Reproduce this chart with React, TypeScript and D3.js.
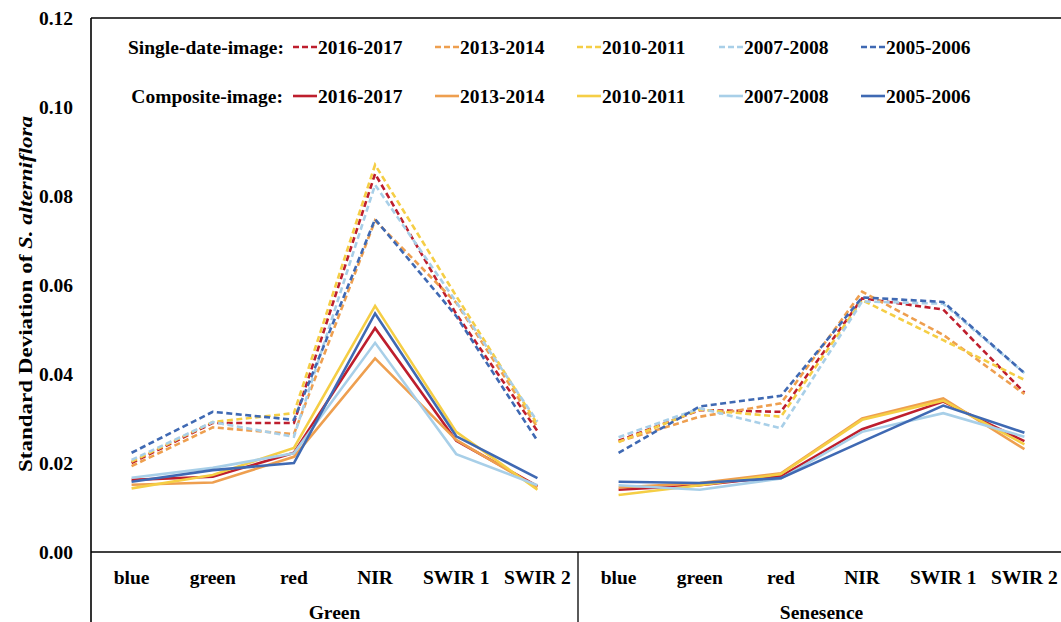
import React from "react";
import * as d3 from "d3";

const bands = ["blue", "green", "red", "NIR", "SWIR 1", "SWIR 2"];
const groups = ["Green", "Senesence"];
const periods = ["2016-2017", "2013-2014", "2010-2011", "2007-2008", "2005-2006"];
const colors = ["#BE1E2D", "#EE9F4F", "#F5CE45", "#A8CFE8", "#3F69B3"];
const yTicks = [0, 0.02, 0.04, 0.06, 0.08, 0.1, 0.12];

// Single-date-image (dashed): 6 Green bands then 6 Senesence bands
const single_2016_2017 = [0.0200, 0.0290, 0.0290, 0.0850, 0.0535, 0.0272, 0.0250, 0.0319, 0.0315, 0.0570, 0.0545, 0.0358];
const single_2013_2014 = [0.0193, 0.0280, 0.0265, 0.0745, 0.0560, 0.0280, 0.0248, 0.0304, 0.0334, 0.0585, 0.0488, 0.0355];
const single_2010_2011 = [0.0203, 0.0292, 0.0312, 0.0870, 0.0575, 0.0287, 0.0247, 0.0320, 0.0304, 0.0566, 0.0476, 0.0387];
const single_2007_2008 = [0.0207, 0.0292, 0.0259, 0.0825, 0.0562, 0.0293, 0.0258, 0.0323, 0.0278, 0.0563, 0.0558, 0.0402];
const single_2005_2006 = [0.0223, 0.0315, 0.0297, 0.0748, 0.0530, 0.0250, 0.0223, 0.0327, 0.0351, 0.0572, 0.0562, 0.0402];

// Composite-image (solid)
const comp_2016_2017 = [0.0162, 0.0169, 0.0223, 0.0503, 0.0250, 0.0148, 0.0140, 0.0150, 0.0170, 0.0276, 0.0338, 0.0249];
const comp_2013_2014 = [0.0151, 0.0156, 0.0214, 0.0435, 0.0252, 0.0145, 0.0145, 0.0155, 0.0177, 0.0300, 0.0345, 0.0231];
const comp_2010_2011 = [0.0143, 0.0173, 0.0234, 0.0553, 0.0270, 0.0140, 0.0128, 0.0150, 0.0175, 0.0297, 0.0340, 0.0242];
const comp_2007_2008 = [0.0167, 0.0189, 0.0222, 0.0470, 0.0220, 0.0150, 0.0150, 0.0140, 0.0165, 0.0270, 0.0312, 0.0259];
const comp_2005_2006 = [0.0158, 0.0184, 0.0200, 0.0536, 0.0260, 0.0166, 0.0158, 0.0155, 0.0166, 0.0248, 0.0329, 0.0268];

const singleSeries = [single_2016_2017, single_2013_2014, single_2010_2011, single_2007_2008, single_2005_2006];
const compSeries = [comp_2016_2017, comp_2013_2014, comp_2010_2011, comp_2007_2008, comp_2005_2006];

const W = 1061, H = 622;
const left = 91, right = 1065, top = 18, bottom = 552;
const FONT = "Liberation Serif, serif";

export default function App() {
  const keys = groups.flatMap((g) => bands.map((b) => g + "|" + b));
  const x = d3.scaleBand().domain(keys).range([left, right]).padding(0);
  const y = d3.scaleLinear().domain([0, 0.12]).range([bottom, top]);
  const cx = (i: number) => (x(keys[i]) as number) + x.bandwidth() / 2;
  const line = d3.line<[number, number]>().x((d) => d[0]).y((d) => d[1]);

  const pathsFor = (vals: number[]) =>
    groups.map((g, gi) =>
      line(bands.map((_, bi) => [cx(gi * 6 + bi), y(vals[gi * 6 + bi])] as [number, number]))
    );

  const sepX = x(keys[6]) as number;

  const legendX0 = 293;
  const legendStep = 142;
  const txt = { fontFamily: FONT, fontWeight: 700 } as React.CSSProperties;

  return (
    <svg width={W} height={H} style={{ position: "absolute", left: 0, top: 0, background: "#fff", fontFamily: FONT }}>
      <rect x={0} y={0} width={W} height={H} fill="#fff" />
      {compSeries.map((s, i) =>
        pathsFor(s).map((p, gi) => (
          <path key={"c" + i + gi} d={p || ""} fill="none" stroke={colors[i]} strokeWidth={2.6} />
        ))
      )}
      {singleSeries.map((s, i) =>
        pathsFor(s).map((p, gi) => (
          <path key={"s" + i + gi} d={p || ""} fill="none" stroke={colors[i]} strokeWidth={2.6} strokeDasharray="6,3.5" />
        ))
      )}
      <line x1={left} x2={W} y1={top} y2={top} stroke="#000" strokeWidth={1.6} />
      <line x1={left} x2={left} y1={top} y2={H} stroke="#000" strokeWidth={1.6} />
      <line x1={left} x2={W} y1={bottom} y2={bottom} stroke="#000" strokeWidth={1.6} />
      <line x1={sepX} x2={sepX} y1={bottom} y2={H} stroke="#000" strokeWidth={1.3} />
      {yTicks.map((t) => (
        <text key={t} x={73} y={y(t)} dy="0.35em" textAnchor="end" fontSize={19.5} style={txt}>
          {t.toFixed(2)}
        </text>
      ))}
      <text
        transform={`translate(32,294) rotate(-90)`}
        textAnchor="middle"
        fontSize={19.5}
        style={txt}
        textLength={356}
        lengthAdjust="spacingAndGlyphs"
      >
        Standard Deviation of <tspan fontStyle="italic">S. alterniflora</tspan>
      </text>
      {keys.map((k, i) => (
        <text key={k} x={cx(i)} y={577} dy="0.35em" textAnchor="middle" fontSize={19.5} style={txt}>
          {bands[i % 6]}
        </text>
      ))}
      {groups.map((g, gi) => (
        <text key={g} x={gi === 0 ? (left + sepX) / 2 : (sepX + right) / 2} y={612} dy="0.35em" textAnchor="middle" fontSize={19.5} style={txt}>
          {g}
        </text>
      ))}
      <text x={284} y={47} dy="0.35em" textAnchor="end" fontSize={19.5} style={txt}>Single-date-image:</text>
      <text x={283} y={96} dy="0.35em" textAnchor="end" fontSize={19.5} style={txt}>Composite-image:</text>
      {periods.map((p, i) => {
        const lx = legendX0 + i * legendStep;
        return (
          <g key={p}>
            <line x1={lx} x2={lx + 24} y1={47} y2={47} stroke={colors[i]} strokeWidth={2.6} strokeDasharray="6,3" />
            <text x={lx + 25} y={47} dy="0.35em" fontSize={19.5} style={txt}>{p}</text>
            <line x1={lx} x2={lx + 24} y1={96} y2={96} stroke={colors[i]} strokeWidth={2.6} />
            <text x={lx + 25} y={96} dy="0.35em" fontSize={19.5} style={txt}>{p}</text>
          </g>
        );
      })}
    </svg>
  );
}
